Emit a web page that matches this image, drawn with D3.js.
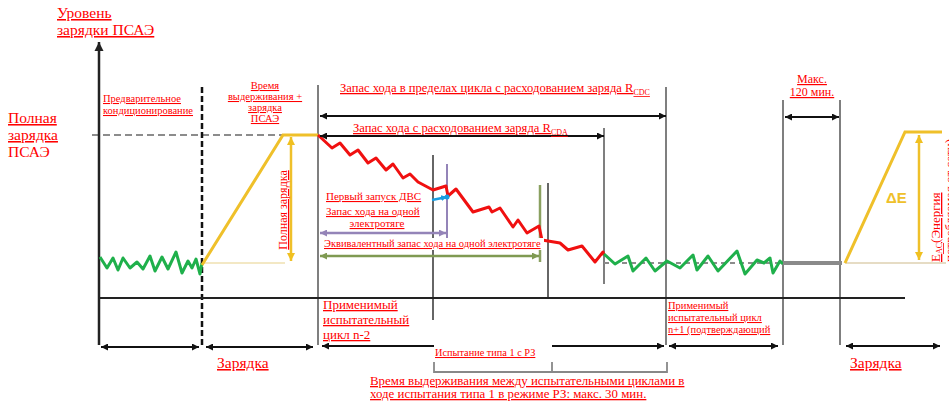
<!DOCTYPE html>
<html><head><meta charset="utf-8">
<script src="https://cdn.jsdelivr.net/npm/d3@7"></script>
<style>
body{margin:0;background:#fff}
text{font-family:"Liberation Serif","Times New Roman",serif;fill:#f00}
.u{text-decoration:underline}
</style>
</head><body>
<svg id="c" width="949" height="403"></svg>
<script>
// ---- data (time units along the x axis, charge level along the y axis) ----
const greenPrecond = [[100,41],[107,30],[113,40],[118,28],[123,40],[130,30],[137,36],[143,29],[150,42],[155,27],[162,41],[168,29],[176,46],[182,25],[188,37],[192,30],[196,39],[200,24],[202,35]];
const chargeRamp = [[202,33],[283,163],[318,163]];
const depletion = [[318,163],[332,150],[340,155],[350,143],[358,148],[368,135],[376,140],[386,128],[393,134],[403,120],[410,124],[418,116],[433,108],[446,112],[448,102],[456,109],[473,86],[489,91],[492,86],[500,90],[513,71],[518,78],[527,65],[539,72],[542,58],[560,55],[568,48],[582,52],[595,36],[603,46],[604,43]];
const greenSustain = [[604,44],[615,34],[628,42],[633,27],[646,40],[655,27],[667,37],[680,30],[693,43],[697,28],[708,42],[718,27],[737,47],[745,24],[757,38],[764,35],[770,40],[773,25],[780,37],[783,34]];
const soakLevel = [[783,35],[842,35]];
const rechargeRamp = [[845,35],[905,166],[942,166]];
const fullLevel = 163, emptyLevel = 35;
const eventTimes = {precondEnd:202, cycleStart:318, iceStart:433, evRangeEnd:447, eqRangeEnd:540, cdaEnd:548, rcda:604, cdcEnd:666, soakStart:783, soakEnd:840};

// ---- scales ----
const W = 949, H = 403;
const sx = d3.scaleLinear().domain([0, 949]).range([0, W]);
const sy = d3.scaleLinear().domain([0, 163]).range([298, 135]);
const line = d3.line().x(d => sx(d[0])).y(d => sy(d[1]));

const svg = d3.select("#c");
const defs = svg.append("defs");
function marker(id, color, w=8, h=7) {
  defs.append("marker").attr("id", id).attr("viewBox", "0 0 10 10")
    .attr("refX", 10).attr("refY", 5).attr("markerWidth", w).attr("markerHeight", h)
    .attr("markerUnits", "userSpaceOnUse").attr("orient", "auto-start-reverse")
    .append("path").attr("d", "M0,0L10,5L0,10z").attr("fill", color);
}
marker("ak", "#111"); marker("ap", "#9484b8"); marker("ag", "#7f9a52");
marker("ay", "#f0c020", 9, 8); marker("ab", "#1a9de0", 6, 6); marker("aAxis", "#222", 9, 10);

function vline(t, y1, y2, color="#7f7f7f", w=2, dash=null) {
  const l = svg.append("line").attr("x1", sx(t)).attr("x2", sx(t)).attr("y1", y1).attr("y2", y2)
    .attr("stroke", color).attr("stroke-width", w);
  if (dash) l.attr("stroke-dasharray", dash);
  return l;
}
function harrow(t1, t2, y, m="ak", color="#111", w=2) {
  svg.append("line").attr("x1", sx(t1)).attr("x2", sx(t2)).attr("y1", y).attr("y2", y)
    .attr("stroke", color).attr("stroke-width", w)
    .attr("marker-start", `url(#${m})`).attr("marker-end", `url(#${m})`);
}
function txt(x, y, s, size, anchor="start", u=true) {
  return svg.append("text").attr("x", x).attr("y", y).attr("font-size", size)
    .attr("text-anchor", anchor).attr("class", u ? "u" : null).text(s);
}

// ---- guide lines ----
vline(eventTimes.cycleStart, 85, 345);
vline(eventTimes.iceStart, 155, 320, "#333", 1.5);
vline(eventTimes.evRangeEnd, 164, 238, "#9484b8", 2);
vline(eventTimes.eqRangeEnd, 185, 262, "#8aa060", 2.5);
vline(eventTimes.cdaEnd, 183, 298, "#333", 1.5);
vline(eventTimes.rcda, 128, 284);
vline(eventTimes.cdcEnd, 87, 345);
vline(eventTimes.soakStart, 100, 345);
vline(eventTimes.soakEnd, 100, 345);

// full charge dashed reference
svg.append("line").attr("x1", sx(92)).attr("x2", sx(283)).attr("y1", sy(fullLevel)).attr("y2", sy(fullLevel))
  .attr("stroke", "#8c8c8c").attr("stroke-width", 2).attr("stroke-dasharray", "7,4");
// faint base lines
svg.append("line").attr("x1", sx(202)).attr("x2", sx(285)).attr("y1", sy(emptyLevel)).attr("y2", sy(emptyLevel))
  .attr("stroke", "#efe0b0").attr("stroke-width", 1.5);
svg.append("line").attr("x1", sx(845)).attr("x2", sx(946)).attr("y1", sy(emptyLevel)).attr("y2", sy(emptyLevel))
  .attr("stroke", "#e6dcc4").attr("stroke-width", 2);
svg.append("line").attr("x1", sx(604)).attr("x2", sx(783)).attr("y1", sy(emptyLevel)).attr("y2", sy(emptyLevel))
  .attr("stroke", "#8c8c8c").attr("stroke-width", 2).attr("stroke-dasharray", "5,4");

// precondition dashed vertical
vline(eventTimes.precondEnd, 87, 345, "#111", 2.5, "6,3");

// axes
svg.append("line").attr("x1", sx(99)).attr("x2", sx(905)).attr("y1", 298).attr("y2", 298)
  .attr("stroke", "#222").attr("stroke-width", 2);
svg.append("line").attr("x1", sx(99)).attr("x2", sx(99)).attr("y1", 345).attr("y2", 42)
  .attr("stroke", "#222").attr("stroke-width", 2.5).attr("marker-end", "url(#aAxis)");

// ---- series ----
svg.append("path").attr("d", line(greenPrecond)).attr("fill", "none").attr("stroke", "#1fb04b").attr("stroke-width", 3).attr("stroke-linejoin", "round");
svg.append("path").attr("d", line(chargeRamp)).attr("fill", "none").attr("stroke", "#efc02a").attr("stroke-width", 3);
svg.append("path").attr("d", line(depletion)).attr("fill", "none").attr("stroke", "#f01010").attr("stroke-width", 3).attr("stroke-linejoin", "round");
svg.append("path").attr("d", line(greenSustain)).attr("fill", "none").attr("stroke", "#1fb04b").attr("stroke-width", 3).attr("stroke-linejoin", "round");
svg.append("path").attr("d", line(soakLevel)).attr("fill", "none").attr("stroke", "#8a8a8a").attr("stroke-width", 4);
svg.append("path").attr("d", line(rechargeRamp)).attr("fill", "none").attr("stroke", "#efc02a").attr("stroke-width", 3);

// yellow vertical arrows
svg.append("line").attr("x1", sx(291)).attr("x2", sx(291)).attr("y1", sy(fullLevel) + 2).attr("y2", sy(emptyLevel) - 2)
  .attr("stroke", "#efc02a").attr("stroke-width", 2.5).attr("marker-start", "url(#ay)").attr("marker-end", "url(#ay)");
svg.append("line").attr("x1", sx(919)).attr("x2", sx(919)).attr("y1", sy(166) + 3).attr("y2", sy(emptyLevel) - 3)
  .attr("stroke", "#efc02a").attr("stroke-width", 2.5).attr("marker-start", "url(#ay)").attr("marker-end", "url(#ay)");

// range arrows
harrow(320, 666, 116);
harrow(320, 604, 136);
harrow(320, 446, 233, "ap", "#9484b8", 2.5);
harrow(320, 539, 256, "ag", "#7f9a52", 2.5);
harrow(785, 839, 117);
// blue ICE start arrow
svg.append("line").attr("x1", 432).attr("x2", 447).attr("y1", 200).attr("y2", 197)
  .attr("stroke", "#1a9de0").attr("stroke-width", 2.5).attr("marker-end", "url(#ab)");
svg.append("circle").attr("cx", 447).attr("cy", 197).attr("r", 2.5).attr("fill", "#1a9de0");

// bottom arrows
harrow(101, 199, 347);
harrow(206, 313, 347);
harrow(322, 664, 346);
harrow(669, 778, 346);
harrow(846, 940, 346);

// ---- texts ----
txt(57, 18, "Уровень", 15.5);
txt(57, 35, "зарядки ПСАЭ", 15.5);
txt(8, 123, "Полная", 15.5);
txt(8, 140, "зарядка", 15.5);
txt(8, 157, "ПСАЭ", 15.5, "start", false);
txt(103, 102, "Предварительное", 10.5);
txt(103, 114, "кондиционирование", 10.5);
txt(265, 89, "Время", 10.5, "middle");
txt(265, 100, "выдерживания +", 10.5, "middle");
txt(265, 111, "зарядка", 10.5, "middle");
txt(265, 122, "ПСАЭ", 10.5, "middle");

const t1 = txt(340, 92, "Запас хода в пределах цикла с расходованием заряда R", 12.6);
t1.append("tspan").attr("font-size", 8).attr("dy", 3).text("CDC");
svg.append("rect").attr("x", 350).attr("y", 123).attr("width", 225).attr("height", 11).attr("fill", "#fff").lower();
const t2 = txt(353, 132, "Запас хода с расходованием заряда R", 12.6);
t2.append("tspan").attr("font-size", 8).attr("dy", 3).text("CDA");

txt(326, 200, "Первый запуск ДВС", 11);
txt(326, 215, "Запас хода на одной", 11);
txt(377, 227, "электротяге", 11, "middle");
svg.append("rect").attr("x", 323).attr("y", 238).attr("width", 221).attr("height", 12).attr("fill", "#fff");
txt(324, 247, "Эквивалентный запас хода на одной электротяге", 10.5);

// vertical label "Полная зарядка"
svg.append("text").attr("class", "u").attr("font-size", 12).attr("text-anchor", "middle")
  .attr("transform", "translate(287,210) rotate(-90)").text("Полная зарядка");

txt(323, 309, "Применимый", 13);
txt(323, 324, "испытательный", 13);
txt(323, 339, "цикл n-2", 13);
txt(668, 309, "Применимый", 10.5);
txt(668, 321, "испытательный цикл", 10.5);
txt(668, 333, "n+1 (подтверждающий", 10.5);

txt(217, 368, "Зарядка", 15.5);
txt(850, 368, "Зарядка", 15.5);

svg.append("rect").attr("x", 434).attr("y", 343).attr("width", 118).attr("height", 16).attr("fill", "#fff");
txt(435, 356, "Испытание типа 1 с РЗ", 10.3);
// bracket
svg.append("path").attr("d", `M${sx(434)},362V372H${sx(667)}V362M${sx(552)},362V372`)
  .attr("fill", "none").attr("stroke", "#888").attr("stroke-width", 1.8);
txt(370, 385, "Время выдерживания между испытательными циклами в", 12.9);
txt(370, 398, "ходе испытания типа 1 в режиме РЗ: макс. 30 мин.", 12.9);

txt(812, 83, "Макс.", 12, "middle");
txt(812, 96, "120 мин.", 12, "middle");

svg.append("text").attr("x", 886).attr("y", 203).attr("font-size", 15).attr("font-weight", "bold")
  .style("font-family", "'Liberation Sans',Arial,sans-serif").style("fill", "#efc02a").text("ΔE");

const ev = svg.append("text").attr("class", "u").attr("font-size", 13)
  .attr("transform", "translate(940,262) rotate(-90)");
ev.append("tspan").text("E");
ev.append("tspan").attr("font-size", 8).attr("dy", 2).text("AC");
ev.append("tspan").attr("dy", -2).text("(Энергия");
svg.append("text").attr("class", "u").attr("font-size", 13)
  .attr("transform", "translate(954,262) rotate(-90)").text("потребляемая от сети)");
</script>
</body></html>
